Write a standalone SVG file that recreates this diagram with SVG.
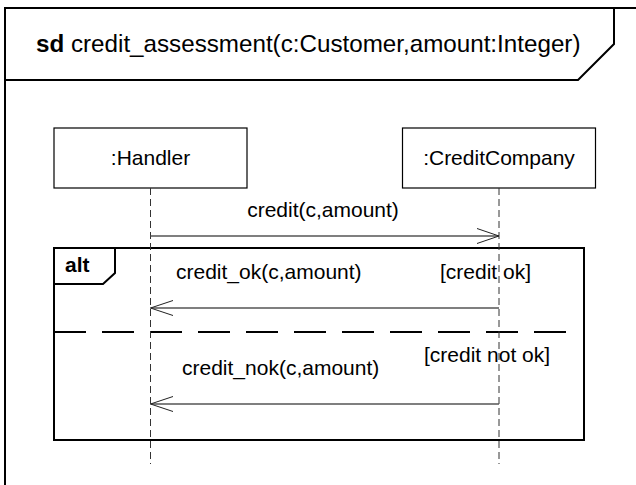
<svg xmlns="http://www.w3.org/2000/svg" width="636" height="485" viewBox="0 0 636 485">
<style>
text{font-family:"Liberation Sans",Arial,sans-serif;font-size:21px;fill:#000}
.b{font-weight:bold}
.frame{fill:none;stroke:#000;stroke-width:2}
.box{fill:#fff;stroke:#000;stroke-width:1.2}
.life{stroke:#333;stroke-width:1;stroke-dasharray:7 4;fill:none}
.msg{stroke:#555;stroke-width:1.3;fill:none}
.head{stroke:#222;stroke-width:1;fill:none}
</style>
<rect x="0" y="0" width="636" height="485" fill="#fff"/>
<g id="frame">
<path class="frame" d="M5,490 V8 H640"/>
<path class="frame" d="M5,80 H578 L614,44 V8"/>
<text x="36" y="52" style="font-size:24.2px"><tspan class="b">sd</tspan> credit_assessment(c:Customer,amount:Integer)</text>
</g>
<g id="handler">
<rect class="box" x="54" y="128" width="193" height="60"/>
<text x="150.5" y="164.5" text-anchor="middle">:Handler</text>
</g>
<g id="creditcompany">
<rect class="box" x="402.5" y="128" width="193" height="60"/>
<text x="499" y="164.5" text-anchor="middle">:CreditCompany</text>
</g>
<g id="alt">
<rect class="frame" x="54" y="248" width="530" height="192"/>
<path class="frame" d="M54,284 H103 L115,273 V248"/>
<text class="b" x="65" y="272">alt</text>
<line x1="54" y1="332" x2="568" y2="332" stroke="#000" stroke-width="2" stroke-dasharray="32 16"/>
<text x="440" y="279">[credit ok]</text>
<text x="424" y="362">[credit not ok]</text>
</g>
<g id="connectors">
<line class="life" x1="150.5" y1="188" x2="150.5" y2="464"/>
<line class="life" x1="499" y1="188" x2="499" y2="464"/>
<line class="msg" x1="150.5" y1="236" x2="499" y2="236"/>
<path class="head" d="M477,228.5 L499,236 L477,243.5"/>
<text x="323" y="217" text-anchor="middle">credit(c,amount)</text>
<line class="msg" x1="150.5" y1="308" x2="499" y2="308"/>
<path class="head" d="M173,300.5 L150.5,308 L173,315.5"/>
<text x="176" y="279">credit_ok(c,amount)</text>
<line class="msg" x1="150.5" y1="404" x2="499" y2="404"/>
<path class="head" d="M173,396.5 L150.5,404 L173,411.5"/>
<text x="182" y="375">credit_nok(c,amount)</text>
</g>
</svg>
